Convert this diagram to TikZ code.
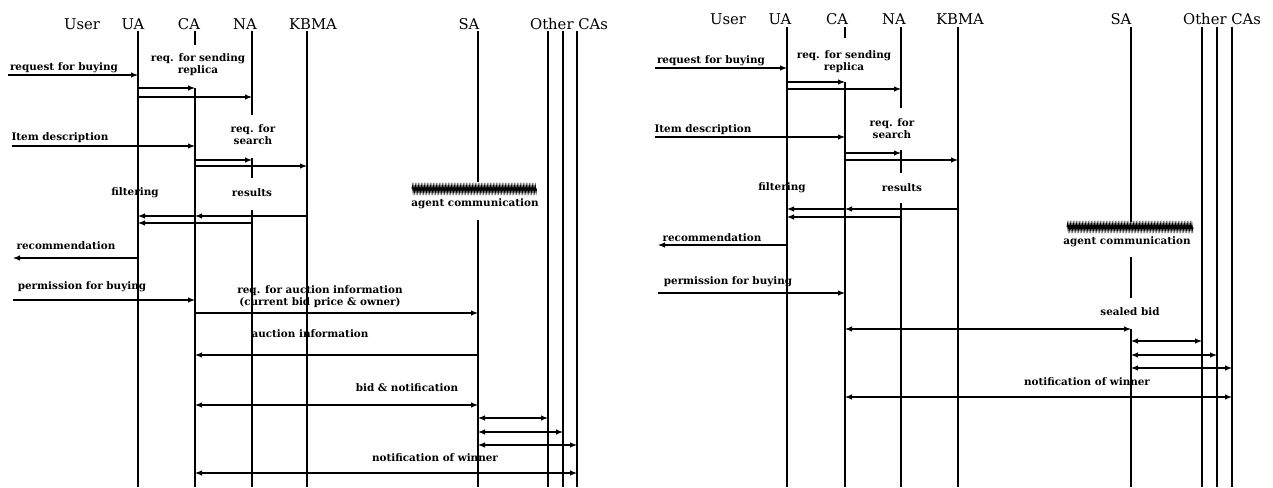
\documentclass[tikz,border=0pt]{standalone}
\usepackage{fontspec}
\newfontfamily\dvs{DejaVu Serif}
\newfontfamily\dvsb{DejaVu Serif Bold}
\usetikzlibrary{arrows.meta,decorations.pathmorphing}
\tikzset{
  hdr/.style={font={\dvs\fontsize{14.8}{16}\selectfont}, inner sep=0pt},
  lbl/.style={font={\dvsb\fontsize{10.4}{12}\selectfont}, inner sep=0pt, align=center},
  life/.style={line width=1.3pt},
  msg/.style={line width=1.1pt, -{Latex[length=7pt,width=5.5pt]}},
  bmsg/.style={line width=1.1pt, {Latex[length=7pt,width=5.5pt]}-{Latex[length=7pt,width=5.5pt]}},
  scrib/.style={line width=0.9pt, decorate, decoration={zigzag, segment length=1.5pt, amplitude=3pt}},
}
\begin{document}
\begin{tikzpicture}[x=1pt,y=-1pt]
\useasboundingbox (0,0) rectangle (1273,487);
% ================= LEFT DIAGRAM =================
\node[hdr] (lhUser) at (82,24) {User};
\node[hdr] (lhUA) at (133,24) {UA};
\node[hdr] (lhCA) at (189,24) {CA};
\node[hdr] (lhNA) at (245,24) {NA};
\node[hdr] (lhKB) at (313,24) {KBMA};
\node[hdr] (lhSA) at (469,24) {SA};
\node[hdr] (lhOC) at (569,24) {Other CAs};
\coordinate (LUA) at (138,0);
\coordinate (LCA) at (195,0);
\coordinate (LNA) at (252,0);
\coordinate (LKB) at (307,0);
\coordinate (LSA) at (478,0);
\coordinate (LO1) at (548,0);
\coordinate (LO2) at (563,0);
\coordinate (LO3) at (577,0);
% lifelines
\draw[life] (LUA |- 0,31) -- (LUA |- 0,487);
\draw[life] (LCA |- 0,31) -- (LCA |- 0,45);
\draw[life] (LCA |- 0,88) -- (LCA |- 0,487);
\draw[life] (LNA |- 0,31) -- (LNA |- 0,115);
\draw[life] (LNA |- 0,158) -- (LNA |- 0,178);
\draw[life] (LNA |- 0,210) -- (LNA |- 0,487);
\draw[life] (LKB |- 0,31) -- (LKB |- 0,487);
\draw[life] (LSA |- 0,31) -- (LSA |- 0,182);
\draw[life] (LSA |- 0,220) -- (LSA |- 0,487);
\draw[life] (LO1 |- 0,31) -- (LO1 |- 0,487);
\draw[life] (LO2 |- 0,31) -- (LO2 |- 0,487);
\draw[life] (LO3 |- 0,31) -- (LO3 |- 0,487);
% messages
\coordinate (lu1) at (8,75);
\node[lbl] (ll1) at (64,68) {request for buying};
\draw[msg] (lu1) -- (LUA |- lu1);
\node[lbl] (ll2) at (198,65) {req. for sending\\replica};
\draw[msg] (LUA |- 0,88) -- (LCA |- 0,88);
\draw[msg] (LUA |- 0,97) -- (LNA |- 0,97);
\coordinate (lu2) at (12,146);
\node[lbl] (ll3) at (60,138) {Item description};
\draw[msg] (lu2) -- (LCA |- lu2);
\node[lbl] (ll4) at (253,135) {req. for\\search};
\draw[msg] (LCA |- 0,160) -- (LNA |- 0,160);
\draw[msg] (LCA |- 0,166) -- (LKB |- 0,166);
\node[lbl] (ll5) at (135,193) {filtering};
\node[lbl] (ll6) at (252,193) {results};
\draw[msg] (LKB |- 0,216) -- (LCA |- 0,216);
\draw[msg] (LCA |- 0,216) -- (LUA |- 0,216);
\draw[msg] (LNA |- 0,223) -- (LUA |- 0,223);
\node[lbl] (ll7) at (66,246) {recommendation};
\coordinate (lu3) at (13,258);
\draw[msg] (LUA |- lu3) -- (lu3);
\node[lbl] (ll8) at (82,287) {permission for buying};
\coordinate (lu4) at (13,300);
\draw[msg] (lu4) -- (LCA |- lu4);
\node[lbl] (ll9) at (320,297) {req. for auction information\\(current bid price \& owner)};
\draw[msg] (LCA |- 0,313) -- (LSA |- 0,313);
\node[lbl] (ll10) at (310,334) {auction information};
\draw[msg] (LSA |- 0,355) -- (LCA |- 0,355);
\node[lbl] (ll11) at (407,388) {bid \& notification};
\draw[bmsg] (LCA |- 0,405) -- (LSA |- 0,405);
\draw[bmsg] (LSA |- 0,418) -- (LO1 |- 0,418);
\draw[bmsg] (LSA |- 0,432) -- (LO2 |- 0,432);
\draw[bmsg] (LSA |- 0,445) -- (LO3 |- 0,445);
\node[lbl] (ll12) at (435,458) {notification of winner};
\draw[bmsg] (LCA |- 0,473) -- (LO3 |- 0,473);
\draw[scrib] (412,189) -- (537,189);
\node[lbl] (ll13) at (475,204) {agent communication};
% ================= RIGHT DIAGRAM =================
\node[hdr] (rhUser) at (728,19) {User};
\node[hdr] (rhUA) at (780,19) {UA};
\node[hdr] (rhCA) at (837,19) {CA};
\node[hdr] (rhNA) at (894,19) {NA};
\node[hdr] (rhKB) at (960,19) {KBMA};
\node[hdr] (rhSA) at (1121,19) {SA};
\node[hdr] (rhOC) at (1222,19) {Other CAs};
\coordinate (RUA) at (787,0);
\coordinate (RCA) at (845,0);
\coordinate (RNA) at (901,0);
\coordinate (RKB) at (958,0);
\coordinate (RSA) at (1131,0);
\coordinate (RO1) at (1202,0);
\coordinate (RO2) at (1217,0);
\coordinate (RO3) at (1232,0);
\draw[life] (RUA |- 0,27) -- (RUA |- 0,487);
\draw[life] (RCA |- 0,27) -- (RCA |- 0,38);
\draw[life] (RCA |- 0,82) -- (RCA |- 0,487);
\draw[life] (RNA |- 0,27) -- (RNA |- 0,108);
\draw[life] (RNA |- 0,150) -- (RNA |- 0,173);
\draw[life] (RNA |- 0,203) -- (RNA |- 0,487);
\draw[life] (RKB |- 0,27) -- (RKB |- 0,487);
\draw[life] (RSA |- 0,27) -- (RSA |- 0,222);
\draw[life] (RSA |- 0,257) -- (RSA |- 0,298);
\draw[life] (RSA |- 0,329) -- (RSA |- 0,487);
\draw[life] (RO1 |- 0,27) -- (RO1 |- 0,487);
\draw[life] (RO2 |- 0,27) -- (RO2 |- 0,487);
\draw[life] (RO3 |- 0,27) -- (RO3 |- 0,487);
\node[lbl] (rl1) at (711,61) {request for buying};
\coordinate (ru1) at (655,68);
\draw[msg] (ru1) -- (RUA |- ru1);
\node[lbl] (rl2) at (844,62) {req. for sending\\replica};
\draw[msg] (RUA |- 0,82) -- (RCA |- 0,82);
\draw[msg] (RUA |- 0,89) -- (RNA |- 0,89);
\node[lbl] (rl3) at (703,130) {Item description};
\coordinate (ru2) at (655,137);
\draw[msg] (ru2) -- (RCA |- ru2);
\node[lbl] (rl4) at (892,129) {req. for\\search};
\draw[msg] (RCA |- 0,153) -- (RNA |- 0,153);
\draw[msg] (RCA |- 0,160) -- (RKB |- 0,160);
\node[lbl] (rl5) at (782,188) {filtering};
\node[lbl] (rl6) at (902,188) {results};
\draw[msg] (RKB |- 0,209) -- (RCA |- 0,209);
\draw[msg] (RCA |- 0,209) -- (RUA |- 0,209);
\draw[msg] (RNA |- 0,217) -- (RUA |- 0,217);
\node[lbl] (rl7) at (712,238) {recommendation};
\coordinate (ru3) at (658,245);
\draw[msg] (RUA |- ru3) -- (ru3);
\node[lbl] (rl8) at (728,282) {permission for buying};
\coordinate (ru4) at (658,293);
\draw[msg] (ru4) -- (RCA |- ru4);
\draw[scrib] (1067,227) -- (1193,227);
\node[lbl] (rl9) at (1127,242) {agent communication};
\node[lbl] (rl10) at (1130,312) {sealed bid};
\draw[bmsg] (RCA |- 0,329) -- (RSA |- 0,329);
\draw[bmsg] (RSA |- 0,341) -- (RO1 |- 0,341);
\draw[bmsg] (RSA |- 0,355) -- (RO2 |- 0,355);
\draw[bmsg] (RSA |- 0,368) -- (RO3 |- 0,368);
\node[lbl] (rl11) at (1087,382) {notification of winner};
\draw[bmsg] (RCA |- 0,397) -- (RO3 |- 0,397);
\end{tikzpicture}
\end{document}
